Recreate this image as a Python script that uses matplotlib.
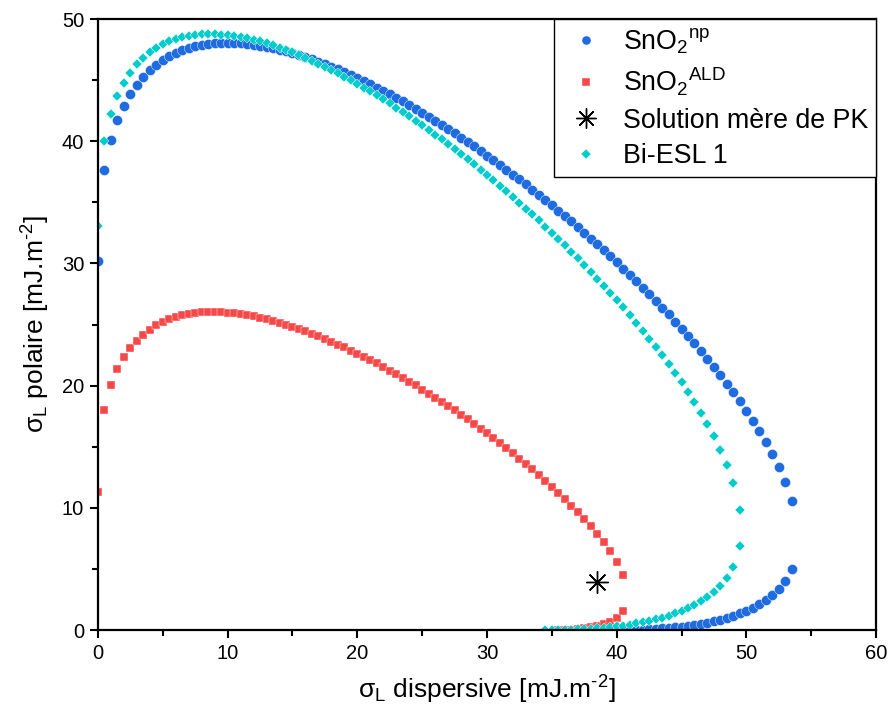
import matplotlib
matplotlib.use("Agg")
import matplotlib.pyplot as plt
from matplotlib.ticker import MultipleLocator

plt.rcParams['font.family'] = ['Liberation Sans', 'DejaVu Sans']
plt.rcParams['mathtext.fontset'] = 'custom'
plt.rcParams['mathtext.rm'] = 'Liberation Sans'
plt.rcParams['mathtext.it'] = 'Liberation Sans:italic'
plt.rcParams['mathtext.default'] = 'regular'

# ---------------- data (mJ.m-2) ----------------
# SnO2 np : upper branch
np_x_up = [0, 0.5, 1, 1.5, 2, 2.5, 3, 3.5, 4, 4.5, 5, 5.5, 6, 6.5, 7, 7.5, 8, 8.5, 9, 9.5,
           10, 10.5, 11, 11.5, 12, 12.5, 13, 13.5, 14, 14.5, 15, 15.5, 16, 16.5, 17, 17.5, 18, 18.5, 19, 19.5,
           20, 20.5, 21, 21.5, 22, 22.5, 23, 23.5, 24, 24.5, 25, 25.5, 26, 26.5, 27, 27.5, 28, 28.5, 29, 29.5,
           30, 30.5, 31, 31.5, 32, 32.5, 33, 33.5, 34, 34.5, 35, 35.5, 36, 36.5, 37, 37.5, 38, 38.5, 39, 39.5,
           40, 40.5, 41, 41.5, 42, 42.5, 43, 43.5, 44, 44.5, 45, 45.5, 46, 46.5, 47, 47.5, 48, 48.5, 49, 49.5,
           50, 50.5, 51, 51.5, 52, 52.5, 53, 53.5]
np_y_up = [30.16, 37.68, 40.09, 41.70, 42.91, 43.86, 44.63, 45.27, 45.80, 46.25, 46.63, 46.95, 47.21, 47.43, 47.61, 47.76, 47.87, 47.95, 48.01, 48.04,
           48.05, 48.04, 48.01, 47.96, 47.89, 47.81, 47.72, 47.61, 47.49, 47.35, 47.20, 47.04, 46.87, 46.69, 46.50, 46.30, 46.09, 45.87, 45.65, 45.41,
           45.17, 44.91, 44.65, 44.39, 44.11, 43.83, 43.54, 43.25, 42.94, 42.63, 42.32, 42.00, 41.67, 41.34, 41.00, 40.65, 40.30, 39.94, 39.58, 39.21,
           38.83, 38.45, 38.06, 37.67, 37.27, 36.87, 36.46, 36.04, 35.62, 35.19, 34.76, 34.32, 33.88, 33.43, 32.97, 32.50, 32.03, 31.56, 31.07, 30.58,
           30.09, 29.58, 29.07, 28.55, 28.02, 27.48, 26.94, 26.38, 25.82, 25.24, 24.66, 24.06, 23.45, 22.83, 22.19, 21.53, 20.86, 20.17, 19.45, 18.71,
           17.94, 17.14, 16.29, 15.39, 14.42, 13.35, 12.12, 10.58]
# SnO2 np : lower branch
np_x_low = [40, 40.5, 41, 41.5, 42, 42.5, 43, 43.5, 44, 44.5, 45, 45.5, 46, 46.5, 47, 47.5, 48, 48.5, 49, 49.5,
            50, 50.5, 51, 51.5, 52, 52.5, 53, 53.5]
np_y_low = [0.00, 0.00, 0.01, 0.02, 0.04, 0.06, 0.09, 0.13, 0.17, 0.22, 0.28, 0.35, 0.42, 0.51, 0.61, 0.73, 0.86, 1.00, 1.17, 1.36,
            1.58, 1.83, 2.12, 2.46, 2.87, 3.38, 4.04, 5.01]

# SnO2 ALD : upper branch
ald_x_up = [0, 0.5, 1, 1.5, 2, 2.5, 3, 3.5, 4, 4.5, 5, 5.5, 6, 6.5, 7, 7.5, 8, 8.5, 9, 9.5,
            10, 10.5, 11, 11.5, 12, 12.5, 13, 13.5, 14, 14.5, 15, 15.5, 16, 16.5, 17, 17.5, 18, 18.5, 19, 19.5,
            20, 20.5, 21, 21.5, 22, 22.5, 23, 23.5, 24, 24.5, 25, 25.5, 26, 26.5, 27, 27.5, 28, 28.5, 29, 29.5,
            30, 30.5, 31, 31.5, 32, 32.5, 33, 33.5, 34, 34.5, 35, 35.5, 36, 36.5, 37, 37.5, 38, 38.5, 39, 39.5,
            40, 40.5]
ald_y_up = [11.33, 17.98, 20.01, 21.33, 22.32, 23.08, 23.69, 24.18, 24.59, 24.93, 25.20, 25.43, 25.61, 25.75, 25.86, 25.94, 25.99, 26.02, 26.02, 26.00,
            25.97, 25.92, 25.85, 25.76, 25.66, 25.55, 25.43, 25.29, 25.14, 24.98, 24.81, 24.63, 24.44, 24.24, 24.03, 23.82, 23.59, 23.36, 23.12, 22.87,
            22.62, 22.35, 22.08, 21.81, 21.52, 21.23, 20.94, 20.63, 20.32, 20.01, 19.68, 19.35, 19.02, 18.68, 18.33, 17.97, 17.61, 17.24, 16.86, 16.48,
            16.09, 15.69, 15.29, 14.88, 14.46, 14.03, 13.59, 13.14, 12.68, 12.21, 11.73, 11.23, 10.72, 10.19, 9.65, 9.08, 8.48, 7.85, 7.17, 6.43,
            5.59, 4.53]
# SnO2 ALD : lower branch
ald_x_low = [35.5, 36, 36.5, 37, 37.5, 38, 38.5, 39, 39.5, 40, 40.5]
ald_y_low = [0.00, 0.01, 0.03, 0.07, 0.13, 0.21, 0.32, 0.47, 0.69, 1.00, 1.53]

# Bi-ESL 1 : upper branch
bi_x_up = [0, 0.5, 1, 1.5, 2, 2.5, 3, 3.5, 4, 4.5, 5, 5.5, 6, 6.5, 7, 7.5, 8, 8.5, 9, 9.5,
           10, 10.5, 11, 11.5, 12, 12.5, 13, 13.5, 14, 14.5, 15, 15.5, 16, 16.5, 17, 17.5, 18, 18.5, 19, 19.5,
           20, 20.5, 21, 21.5, 22, 22.5, 23, 23.5, 24, 24.5, 25, 25.5, 26, 26.5, 27, 27.5, 28, 28.5, 29, 29.5,
           30, 30.5, 31, 31.5, 32, 32.5, 33, 33.5, 34, 34.5, 35, 35.5, 36, 36.5, 37, 37.5, 38, 38.5, 39, 39.5,
           40, 40.5, 41, 41.5, 42, 42.5, 43, 43.5, 44, 44.5, 45, 45.5, 46, 46.5, 47, 47.5, 48, 48.5, 49, 49.5]
bi_y_up = [33.06, 40.03, 42.24, 43.70, 44.78, 45.62, 46.29, 46.83, 47.28, 47.64, 47.94, 48.18, 48.37, 48.52, 48.63, 48.70, 48.75, 48.77, 48.76, 48.73,
           48.68, 48.61, 48.52, 48.42, 48.29, 48.16, 48.00, 47.84, 47.66, 47.47, 47.27, 47.05, 46.83, 46.59, 46.35, 46.09, 45.83, 45.56, 45.28, 44.99,
           44.69, 44.39, 44.07, 43.75, 43.42, 43.09, 42.75, 42.40, 42.04, 41.67, 41.31, 40.93, 40.54, 40.15, 39.76, 39.35, 38.95, 38.53, 38.11, 37.68,
           37.24, 36.80, 36.35, 35.90, 35.43, 34.96, 34.49, 34.01, 33.52, 33.02, 32.52, 32.00, 31.48, 30.96, 30.42, 29.87, 29.32, 28.76, 28.18, 27.60,
           27.01, 26.40, 25.78, 25.15, 24.51, 23.85, 23.17, 22.47, 21.76, 21.02, 20.26, 19.46, 18.63, 17.76, 16.83, 15.84, 14.76, 13.53, 12.05, 9.80]
# Bi-ESL 1 : lower branch
bi_x_low = [34.5, 35, 35.5, 36, 36.5, 37, 37.5, 38, 38.5, 39, 39.5,
            40, 40.5, 41, 41.5, 42, 42.5, 43, 43.5, 44, 44.5, 45, 45.5, 46, 46.5, 47, 47.5, 48, 48.5, 49, 49.5]
bi_y_low = [0.00, 0.00, 0.01, 0.02, 0.03, 0.06, 0.08, 0.11, 0.15, 0.19, 0.25,
            0.31, 0.37, 0.45, 0.54, 0.64, 0.75, 0.88, 1.02, 1.18, 1.36, 1.56, 1.79, 2.06, 2.36, 2.71, 3.13, 3.64, 4.29, 5.19, 6.86]

# liquid: Solution mere de PK
pk_x = [38.5]
pk_y = [3.9]

labels = [r'SnO$_2$$^{np}$', r'SnO$_2$$^{ALD}$', 'Solution mère de PK', 'Bi-ESL 1']

c_np = '#1F6BE0'
c_ald = '#F74848'
c_bi = '#00CCCC'

fig = plt.figure(figsize=(8.89, 7.17), dpi=100)
ax = fig.add_axes([0.1102, 0.1213, 0.8752, 0.8522])

mk = dict(linestyle='none', markeredgecolor='white', markeredgewidth=0.3)
ax.plot(np_x_up + np_x_low, np_y_up + np_y_low, marker='o', markersize=7.3,
        color=c_np, label=labels[0], **mk)
ax.plot(ald_x_up + ald_x_low, ald_y_up + ald_y_low, marker='s', markersize=6.3,
        color=c_ald, label=labels[1], **mk)
ax.plot(pk_x, pk_y, marker=(8, 2, 0), markersize=16, linestyle='none',
        color='black', markeredgewidth=1.0, label=labels[2])
ax.plot(bi_x_up + bi_x_low, bi_y_up + bi_y_low, marker='D', markersize=5.6,
        color=c_bi, label=labels[3], **mk)

ax.set_xlim(0, 60)
ax.set_ylim(0, 50)
ax.xaxis.set_major_locator(MultipleLocator(10))
ax.xaxis.set_minor_locator(MultipleLocator(5))
ax.yaxis.set_major_locator(MultipleLocator(10))
ax.yaxis.set_minor_locator(MultipleLocator(5))
ax.tick_params(which='major', direction='out', length=6, width=1.5, labelsize=14.5,
               top=False, right=False, pad=4)
ax.tick_params(which='minor', direction='out', length=4, width=1.5, top=False, right=False)
for sp in ax.spines.values():
    sp.set_linewidth(1.6)

ax.set_xlabel('σ$_\\mathrm{L}$ dispersive [mJ.m$^{\u20102}$]', fontsize=19, labelpad=8)
ax.set_ylabel('σ$_\\mathrm{L}$ polaire [mJ.m$^{\u20102}$]', fontsize=19, labelpad=7)

leg = ax.legend(loc='upper right', bbox_to_anchor=(1.0, 1.0), borderaxespad=0,
                fancybox=False, edgecolor='black', fontsize=19.3, handletextpad=0.5,
                handlelength=1.8, labelspacing=0.36, borderpad=0.28, framealpha=1,
                markerscale=0.9)
leg.get_frame().set_linewidth(1.0)

fig.savefig('out.png', dpi=100)
